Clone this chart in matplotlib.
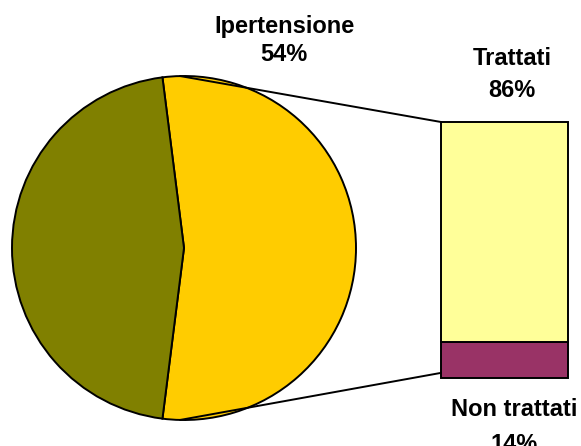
import numpy as np
import matplotlib
matplotlib.use("Agg")
import matplotlib.pyplot as plt
from matplotlib.patches import ConnectionPatch

# Data
pie_labels = ["Ipertensione", "Altro"]
pie_values = [54, 46]
pie_colors = ["#FFCC00", "#808000"]

bar_labels = ["Non trattati", "Trattati"]
bar_values = [14, 86]
bar_colors = ["#993366", "#FFFF99"]

plt.rcParams['font.family'] = ['Liberation Sans', 'DejaVu Sans']

W, H = 581, 446
fig = plt.figure(figsize=(W / 100, H / 100), dpi=100)

# Pie axes in pixel units
ax = fig.add_axes([0, 0, 1, 1])
cx, cy, r = 184, 446 - 248, 172
start = 90 + 360 * (pie_values[0] / 100 - 0.5) / 2
ax.pie(pie_values, colors=pie_colors, startangle=start, counterclock=False,
       center=(cx, cy), radius=r,
       wedgeprops=dict(edgecolor="black", linewidth=1.4))
ax.set_xlim(0, W)
ax.set_ylim(0, H)
ax.set_aspect("equal")
ax.axis("off")

# Bar axes
bx0, by_top, by_bot, bw = 441, 122, 378, 127
bax = fig.add_axes([bx0 / W, (H - by_bot) / H, bw / W, (by_bot - by_top) / H])
bottom = 0
for v, c in zip(bar_values, bar_colors):
    bax.bar(0, v, bottom=bottom, width=1, color=c, edgecolor="black",
            linewidth=1.4, clip_on=False)
    bottom += v
bax.set_xlim(-0.5, 0.5)
bax.set_ylim(0, 100)
bax.axis("off")

# Connector lines
for ang, yb in [(91.3, 100), (268.7, 2)]:
    px = cx + r * np.cos(np.radians(ang))
    py = cy + r * np.sin(np.radians(ang))
    con = ConnectionPatch(xyA=(px, py), coordsA=ax.transData,
                          xyB=(-0.5, yb), coordsB=bax.transData,
                          color="black", linewidth=1.4)
    fig.add_artist(con)

fs = 17
kw = dict(fontsize=fs, fontweight="bold", ha="center", va="baseline")
ax.text(284, H - 33, pie_labels[0], **kw)
ax.text(284, H - 61, f"{pie_values[0]}%", **kw)
ax.text(512, H - 65, bar_labels[1], **kw)
ax.text(512, H - 97, f"{bar_values[1]}%", **kw)
ax.text(514, H - 416, bar_labels[0], **kw)
ax.text(514, H - 451, f"{bar_values[0]}%", **kw)

fig.savefig("out.png", dpi=100)
